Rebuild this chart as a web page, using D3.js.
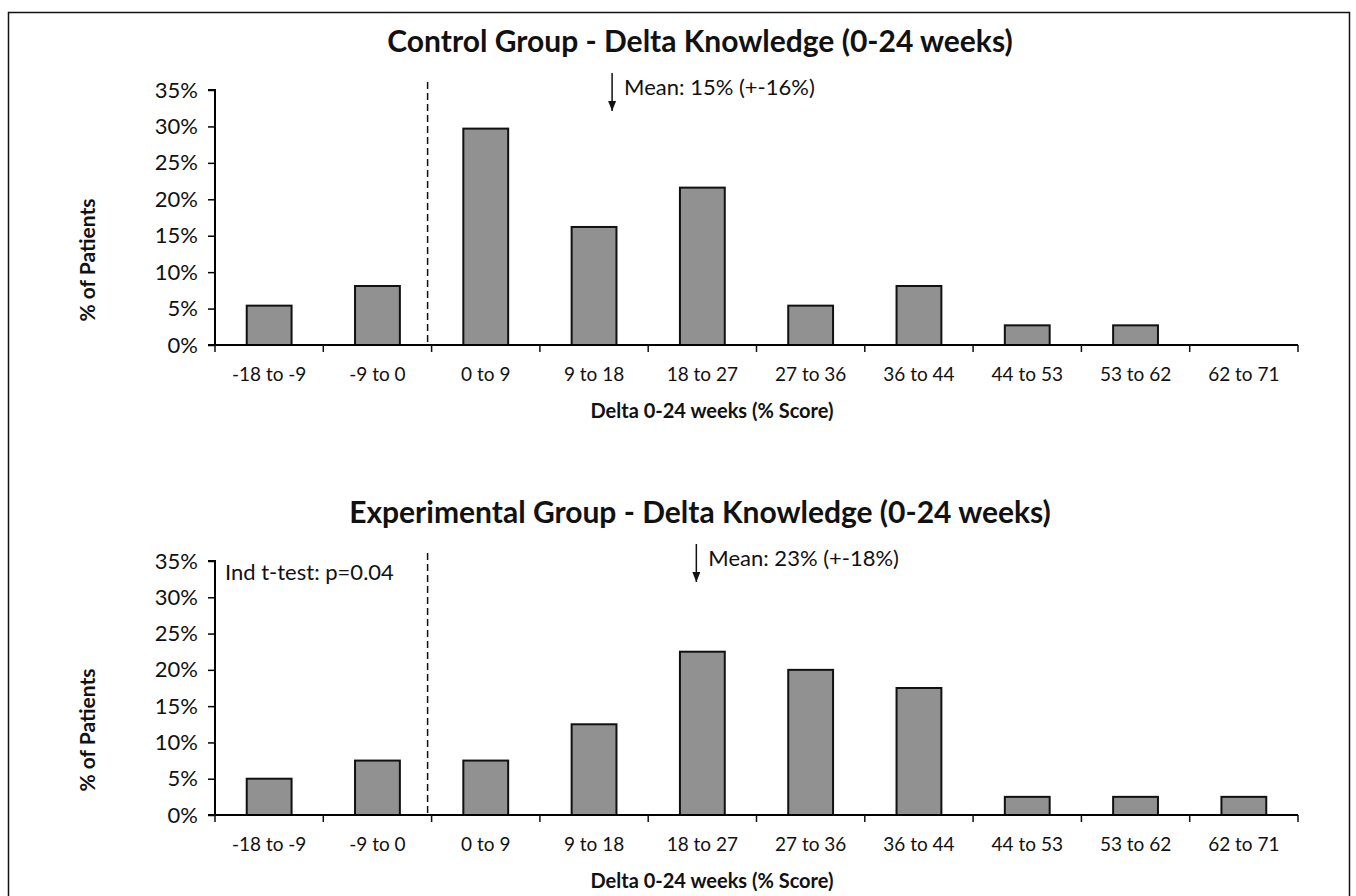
<!DOCTYPE html>
<html>
<head>
<meta charset="utf-8">
<script src="https://cdn.jsdelivr.net/npm/d3@7"></script>
<style>
  body { margin: 0; background: #fff; }
  svg { display: block; }
  text { font-family: Lato, "Open Sans", sans-serif; fill: #111; }
</style>
</head>
<body>
<div id="chart"></div>
<script>
// Bins of the change in knowledge score
const categories = ["-18 to -9", "-9 to 0", "0 to 9", "9 to 18", "18 to 27",
    "27 to 36", "36 to 44", "44 to 53", "53 to 62", "62 to 71"];

// % of patients in each bin
const controlValues = [5.4, 8.1, 29.7, 16.2, 21.6, 5.4, 8.1, 2.7, 2.7, 0];
const experimentalValues = [5, 7.5, 7.5, 12.5, 22.5, 20, 17.5, 2.5, 2.5, 2.5];

const yTicks = [0, 5, 10, 15, 20, 25, 30, 35];

const titles = ["Control Group - Delta Knowledge (0-24 weeks)",
    "Experimental Group - Delta Knowledge (0-24 weeks)"];
// where the mean arrows point, in % score
const meanValues = [15, 22];
const meanLabels = ["Mean: 15% (+-16%)", "Mean: 23% (+-18%)"];
const xTitle = "Delta 0-24 weeks (% Score)";
const yTitle = "% of Patients";
const testLabel = "Ind t-test: p=0.04";

const width = 1356, height = 896;
const plotLeft = 215, plotRight = 1298;

let svg = d3.select("#chart")
    .append("svg")
    .attr("width", width)
    .attr("height", height);

// outer frame (bottom edge runs off the page)
svg.append("rect")
    .attr("x", 8.5).attr("y", 12.5)
    .attr("width", 1341).attr("height", 900)
    .attr("fill", "none")
    .attr("stroke", "#111")
    .attr("stroke-width", 1.5);

// arrow head for the mean markers
svg.append("defs").append("marker")
    .attr("id", "arrow")
    .attr("viewBox", "0 0 10 10")
    .attr("refX", 10).attr("refY", 5)
    .attr("markerWidth", 10).attr("markerHeight", 10)
    .attr("markerUnits", "userSpaceOnUse")
    .attr("orient", "auto")
    .append("path")
    .attr("d", "M0,1L10,5L0,9Z")
    .attr("fill", "#111");

let panels = [
    {values: controlValues, top: 90, bottom: 345},
    {values: experimentalValues, top: 561, bottom: 815}
];

panels.forEach(function(p, i) {
    let g = svg.append("g");

    let x = d3.scaleBand()
        .domain(categories)
        .range([plotLeft, plotRight])
        .paddingInner(0.586)
        .paddingOuter(0.293);

    let y = d3.scaleLinear()
        .domain([0, 35])
        .range([p.bottom, p.top]);

    let step = x.step();
    let edge = k => plotLeft + k * step;

    // title
    g.append("text")
        .attr("x", 700)
        .attr("y", p.top - 38)
        .attr("text-anchor", "middle")
        .style("font-size", "30px")
        .style("font-weight", "bold")
        .text(titles[i]);

    // dashed separator at zero
    g.append("line")
        .attr("x1", edge(2) - 4).attr("x2", edge(2) - 4)
        .attr("y1", p.top - 8).attr("y2", p.bottom)
        .attr("stroke", "#111")
        .attr("stroke-width", 1.5)
        .attr("stroke-dasharray", "7,4");

    // bars
    g.selectAll("rect.bar")
        .data(p.values)
        .enter()
        .append("rect")
        .attr("class", "bar")
        .attr("x", (d, j) => x(categories[j]))
        .attr("y", d => y(d))
        .attr("width", x.bandwidth())
        .attr("height", d => p.bottom - y(d))
        .attr("fill", "#919191")
        .attr("stroke", "#111")
        .attr("stroke-width", 2)
        .style("display", d => d > 0 ? null : "none");

    // y axis
    let yAxis = g.append("g")
        .attr("transform", `translate(${plotLeft},0)`)
        .call(d3.axisLeft(y).tickValues(yTicks).tickSize(7).tickPadding(10)
            .tickFormat(d => d + "%"));
    yAxis.select(".domain").attr("stroke-width", 2).attr("d", `M-7,${p.top}H0V${p.bottom}`);
    yAxis.selectAll(".tick line").attr("stroke-width", 1.5);
    yAxis.selectAll("text").style("font-size", "22px");

    // x axis labels
    let xAxis = g.append("g")
        .attr("transform", `translate(0,${p.bottom})`)
        .call(d3.axisBottom(x).tickSize(0).tickPadding(23));
    xAxis.select(".domain").attr("stroke-width", 2).attr("d", `M${plotLeft - 7},0H${plotRight}`);
    xAxis.selectAll("text").style("font-size", "19px");

    // x ticks on the bin edges
    g.selectAll("line.edge")
        .data(d3.range(categories.length + 1))
        .enter()
        .append("line")
        .attr("class", "edge")
        .attr("x1", k => edge(k)).attr("x2", k => edge(k))
        .attr("y1", p.bottom).attr("y2", p.bottom + 7)
        .attr("stroke", "#111")
        .attr("stroke-width", 1.5);

    // axis titles
    g.append("text")
        .attr("x", 712)
        .attr("y", p.bottom + 73)
        .attr("text-anchor", "middle")
        .style("font-size", "20px")
        .style("font-weight", "bold")
        .text(xTitle);

    g.append("text")
        .attr("transform", `translate(95,${p.bottom - 85})rotate(-90)`)
        .attr("text-anchor", "middle")
        .style("font-size", "21px")
        .style("font-weight", "bold")
        .text(yTitle);

    // mean marker
    let meanIdx = Math.floor(meanValues[i] / 9) + 2;
    let meanX = edge(meanIdx) + (meanValues[i] % 9) / 9 * step;
    g.append("line")
        .attr("x1", meanX).attr("x2", meanX)
        .attr("y1", p.top - 17).attr("y2", p.top + 21)
        .attr("stroke", "#111")
        .attr("stroke-width", 1.5)
        .attr("marker-end", "url(#arrow)");

    g.append("text")
        .attr("x", meanX + 12)
        .attr("y", p.top + 5)
        .style("font-size", "22px")
        .text(meanLabels[i]);

    if (i === 1) {
        g.append("text")
            .attr("x", plotLeft + 10)
            .attr("y", p.top + 19)
            .style("font-size", "22px")
            .text(testLabel);
    }
});
</script>
</body>
</html>
